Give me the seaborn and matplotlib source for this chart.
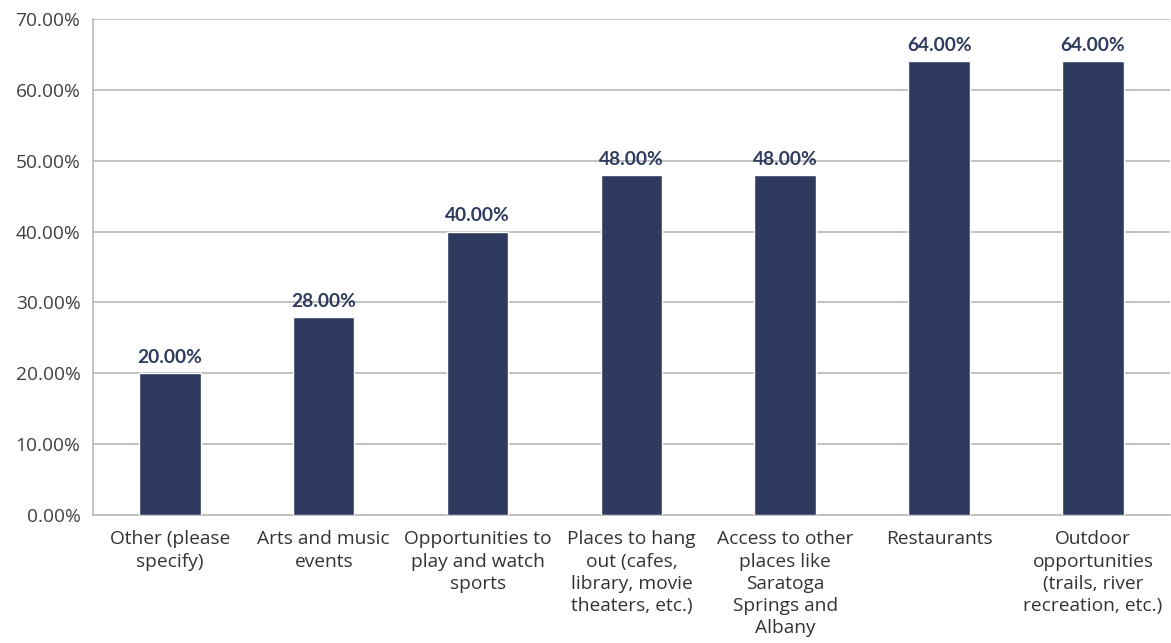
import matplotlib.pyplot as plt
import numpy as np
import pandas as pd
import seaborn as sns
from matplotlib.ticker import FixedLocator, FuncFormatter

categories = ["Other (please\nspecify)", "Arts and music\nevents",
              "Opportunities to\nplay and watch\nsports",
              "Places to hang\nout (cafes,\nlibrary, movie\ntheaters, etc.)",
              "Access to other\nplaces like\nSaratoga\nSprings and\nAlbany",
              "Restaurants",
              "Outdoor\nopportunities\n(trails, river\nrecreation, etc.)"]
values = [20.0, 28.0, 40.0, 48.0, 48.0, 64.0, 64.0]
yticks = [0, 10, 20, 30, 40, 50, 60, 70]

df = pd.DataFrame({"cat": categories, "val": values})

sns.set_style("white")
plt.rcParams['font.family'] = ['Open Sans', 'DejaVu Sans']

bar_color = "#2E3B5E"
grid_color = "#BDBDBD"

fig, ax = plt.subplots(figsize=(11.71, 6.43), dpi=100)
fig.subplots_adjust(left=0.0794, right=0.999, top=0.9705, bottom=0.199)

sns.barplot(data=df, x="cat", y="val", color=bar_color, width=0.4,
            saturation=1, ax=ax, zorder=3)

ax.set_ylim(0, 70)
ax.set_xlim(-0.5, len(categories) - 0.5)
ax.set_yticks(yticks)
ax.yaxis.set_major_formatter(FuncFormatter(lambda v, p: f"{v:.2f}%"))
ax.grid(axis="y", color=grid_color, linewidth=1.3, zorder=0)
ax.set_axisbelow(True)

for s in ["top", "right"]:
    ax.spines[s].set_visible(False)
for s in ["left", "bottom"]:
    ax.spines[s].set_color(grid_color)
    ax.spines[s].set_linewidth(1.3)

ax.tick_params(axis="x", which="major", length=0, labelsize=13.8,
               labelcolor="#333333", pad=11)
for lbl in ax.get_xticklabels():
    lbl.set_linespacing(1.3)
ax.xaxis.set_minor_locator(FixedLocator(np.arange(-0.5, len(categories), 1.0)))
ax.tick_params(axis="x", which="minor", length=6, color=grid_color, width=1.3)
ax.tick_params(axis="y", length=5, color=grid_color, width=1.3,
               labelsize=13.8, labelcolor="#404040", pad=4)

ax.set_xlabel("")
ax.set_ylabel("")

for i, v in enumerate(values):
    ax.text(i, v + 1.0, f"{v:.2f}%", ha="center", va="bottom",
            fontsize=13.8, fontweight="bold", color="#2E3B5E",
            family=["Lato", "DejaVu Sans"])

fig.savefig("out.png", dpi=100)
